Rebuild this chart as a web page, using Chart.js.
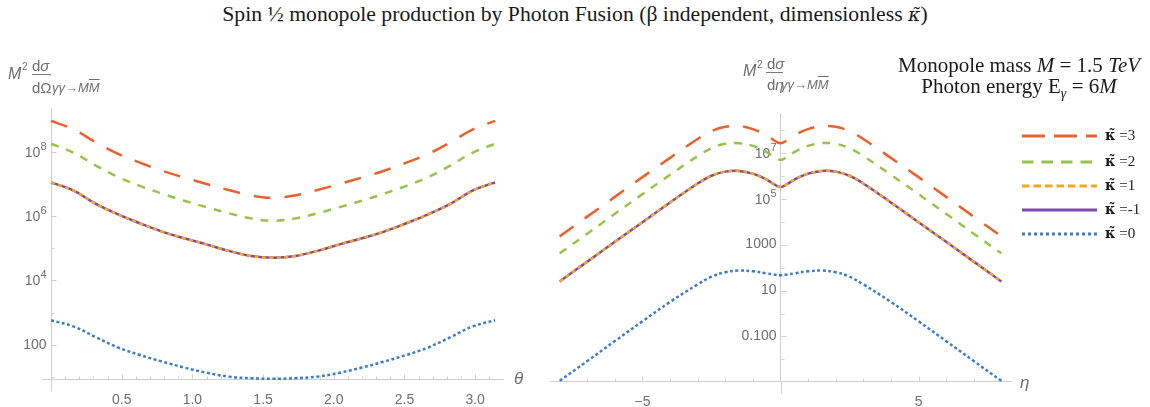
<!DOCTYPE html>
<html>
<head>
<meta charset="utf-8">
<script src="https://cdn.jsdelivr.net/npm/chart.js@4.4.1/dist/chart.umd.min.js"></script>
<style>
html,body{margin:0;padding:0;background:#fff;}
body{width:1150px;height:407px;position:relative;overflow:hidden;font-family:'Liberation Sans',Arial,sans-serif;}
.abs{position:absolute;line-height:1;white-space:nowrap;}
.serif{font-family:'Liberation Serif','Times New Roman',serif;color:#1a1a1a;}
.kap{font-family:'DejaVu Serif',serif;}
.lab{color:#6e6e6e;}
.bar{position:absolute;height:1px;background:#7a7a7a;}
.it{font-style:italic;}
.ov{text-decoration:overline;}
canvas{position:absolute;top:0;}
</style>
</head>
<body>
<div class="abs serif" style="left:0;top:4px;width:1150px;text-align:center;font-size:21.7px;">Spin ½ monopole production by Photon Fusion (β independent, dimensionless <i class="kap" style="font-size:19px">κ̃</i>)</div>

<canvas id="cLeft" width="530" height="407" style="left:0"></canvas>
<canvas id="cRight" width="620" height="407" style="left:530px"></canvas>

<!-- left axis title -->
<div class="abs lab it" style="left:8px;top:65.5px;font-size:16px;">M</div>
<div class="abs lab" style="left:22px;top:62px;font-size:10px;">2</div>
<div class="abs lab" style="left:32px;top:58px;font-size:15px;">d<span class="it">σ</span></div>
<div class="bar" style="left:32px;top:74px;width:19px;"></div>
<div class="abs lab" style="left:32px;top:80px;font-size:15px;">dΩ</div>
<div class="abs lab it" style="left:52px;top:81px;font-size:13px;">γγ→M<span class="ov">M</span></div>

<!-- right axis title -->
<div class="abs lab it" style="left:743px;top:63px;font-size:16px;">M</div>
<div class="abs lab" style="left:757px;top:59.5px;font-size:10px;">2</div>
<div class="abs lab" style="left:767px;top:55.5px;font-size:15px;">d<span class="it">σ</span></div>
<div class="bar" style="left:766px;top:72px;width:17px;"></div>
<div class="abs lab" style="left:767px;top:77px;font-size:15px;">d<span class="it">η</span></div>
<div class="abs lab it" style="left:781px;top:78px;font-size:13px;">γγ→M<span class="ov">M</span></div>

<!-- axis variable names -->
<div class="abs lab it" style="left:514px;top:370px;font-size:17px;">θ</div>
<div class="abs lab it" style="left:1020px;top:374px;font-size:17px;">η</div>

<!-- annotation -->
<div class="abs serif" style="left:889px;top:54.5px;width:260px;text-align:center;font-size:21px;">Monopole mass <i>M</i> = 1.5 <i>TeV</i></div>
<div class="abs serif" style="left:889px;top:76px;width:260px;text-align:center;font-size:21px;">Photon energy E<sub style="font-size:14px;"><i>γ</i></sub> = 6<i>M</i></div>

<div id="legend"></div>

<script>
// ---------------- data ----------------
const thetaValues = [0, 0.1571, 0.3142, 0.4712, 0.6283, 0.7854, 0.9425, 1.0996, 1.2566, 1.4137, 1.5708, 1.7279, 1.8850, 2.0420, 2.1991, 2.3562, 2.5133, 2.6704, 2.8274, 2.9845, 3.1416];
const leftKappa3  = [9.1e8, 5.0e8, 2.0e8, 8.7e7, 4.6e7, 2.57e7, 1.58e7, 1.0e7, 6.5e6, 4.4e6, 3.7e6, 4.4e6, 6.5e6, 1.0e7, 1.58e7, 2.57e7, 4.6e7, 8.7e7, 2.0e8, 5.0e8, 9.1e8];
const leftKappa2  = [1.78e8, 9.5e7, 3.8e7, 1.66e7, 8.7e6, 5.0e6, 3.0e6, 1.9e6, 1.23e6, 8.5e5, 7.2e5, 8.5e5, 1.23e6, 1.9e6, 3.0e6, 5.0e6, 8.7e6, 1.66e7, 3.8e7, 9.5e7, 1.78e8];
const leftKappa1  = [1.12e7, 6.3e6, 2.45e6, 1.15e6, 6.0e5, 3.3e5, 2.04e5, 1.32e5, 8.3e4, 5.75e4, 5.1e4, 5.75e4, 8.3e4, 1.32e5, 2.04e5, 3.3e5, 6.0e5, 1.15e6, 2.45e6, 6.3e6, 1.12e7];
const leftKappaM1 = [1.12e7, 6.3e6, 2.45e6, 1.15e6, 6.0e5, 3.3e5, 2.04e5, 1.32e5, 8.3e4, 5.75e4, 5.1e4, 5.75e4, 8.3e4, 1.32e5, 2.04e5, 3.3e5, 6.0e5, 1.15e6, 2.45e6, 6.3e6, 1.12e7];
const leftKappa0  = [575, 372, 174, 83, 48, 30, 19.5, 13.5, 10.2, 9.1, 8.7, 9.1, 10.2, 13.5, 19.5, 30, 48, 83, 174, 372, 575];

const etaValues = [-8, -7, -6, -5, -4, -3, -2.5, -2, -1.5, -1, -0.5, -0.25, 0, 0.25, 0.5, 1, 1.5, 2, 2.5, 3, 4, 5, 6, 7, 8];
const rightKappa3  = [2290, 1.66e4, 1.2e5, 8.7e5, 6.0e6, 4.0e7, 8.7e7, 1.35e8, 1.45e8, 1.07e8, 5.8e7, 3.6e7, 2.6e7, 3.6e7, 5.8e7, 1.07e8, 1.45e8, 1.35e8, 8.7e7, 4.0e7, 6.0e6, 8.7e5, 1.2e5, 1.66e4, 2290];
const rightKappa2  = [417, 3.0e3, 2.19e4, 1.58e5, 1.1e6, 7.2e6, 1.58e7, 2.45e7, 2.63e7, 2.0e7, 1.07e7, 6.9e6, 4.9e6, 6.9e6, 1.07e7, 2.0e7, 2.63e7, 2.45e7, 1.58e7, 7.2e6, 1.1e6, 1.58e5, 2.19e4, 3.0e3, 417];
const rightKappa1  = [25, 182, 1320, 9.5e3, 6.8e4, 4.6e5, 1.0e6, 1.51e6, 1.62e6, 1.23e6, 6.8e5, 4.4e5, 3.2e5, 4.4e5, 6.8e5, 1.23e6, 1.62e6, 1.51e6, 1.0e6, 4.6e5, 6.8e4, 9.5e3, 1320, 182, 25];
const rightKappaM1 = [25, 182, 1320, 9.5e3, 6.8e4, 4.6e5, 1.0e6, 1.51e6, 1.62e6, 1.23e6, 6.8e5, 4.4e5, 3.2e5, 4.4e5, 6.8e5, 1.23e6, 1.62e6, 1.51e6, 1.0e6, 4.6e5, 6.8e4, 9.5e3, 1320, 182, 25];
const rightKappa0  = [0.00117, 0.0085, 0.063, 0.46, 3.2, 18.6, 40, 63, 74, 69, 56, 50, 46, 50, 56, 69, 74, 63, 40, 18.6, 3.2, 0.46, 0.063, 0.0085, 0.00117];

const seriesLabels = ['κ̃ =3', 'κ̃ =2', 'κ̃ =1', 'κ̃ =-1', 'κ̃ =0'];

const leftXTicks = [0.1,0.2,0.3,0.4,0.5,0.6,0.7,0.8,0.9,1.0,1.1,1.2,1.3,1.4,1.5,1.6,1.7,1.8,1.9,2.0,2.1,2.2,2.3,2.4,2.5,2.6,2.7,2.8,2.9,3.0,3.1];
const leftXLabels = [[0.5,'0.5'],[1.0,'1.0'],[1.5,'1.5'],[2.0,'2.0'],[2.5,'2.5'],[3.0,'3.0']];
const leftYTicks = [10, 100, 1e3, 1e4, 1e5, 1e6, 1e7, 1e8, 1e9];
const leftYLabels = [[100,'100'],[1e4,'10^4'],[1e6,'10^6'],[1e8,'10^8']];

const rightXTicks = [-8,-7,-6,-5,-4,-3,-2,-1,1,2,3,4,5,6,7,8];
const rightXLabels = [[-5,'−5'],[5,'5']];
const rightYTicks = [0.01, 0.1, 1, 10, 100, 1e3, 1e4, 1e5, 1e6, 1e7, 1e8];
const rightYLabels = [[0.1,'0.100'],[10,'10'],[1000,'1000'],[1e5,'10^5'],[1e7,'10^7']];

// ---------------- styles ----------------
const styles = [
  {color:'#E8622E', dash:[17,14], legendDash:'23 9'},
  {color:'#96C44A', dash:[8,8],   legendDash:'11.5 8'},
  {color:'#F6A623', dash:[4,3.5], legendDash:'7.5 4'},
  {color:'#7C4AA6', dash:[],      legendDash:''},
  {color:'#3E7CC8', dash:[3,2.5], legendDash:'3 3'}
];
const AXIS = '#cfcfcf';
const TICKTXT = '#6e6e6e';
const FONT = "'Liberation Sans', Arial, sans-serif";

Chart.defaults.font.family = FONT;

function findLabel(list, v, log) {
  for (const [k, s] of list) {
    if (log ? Math.abs(Math.log10(k) - Math.log10(v)) < 1e-6 : Math.abs(k - v) < 1e-6) return s;
  }
  return '';
}

// tick marks pointing into the plot, and y labels with real superscripts
const axisDecor = {
  id: 'axisDecor',
  beforeDatasetsDraw(chart) {
    const {ctx, chartArea} = chart;
    const xs = chart.scales.x, ys = chart.scales.y;
    const ax = Math.round(xs.getPixelForValue(0)) + 0.5;
    const ay = Math.round(chartArea.bottom) + 0.5;
    ctx.save();
    ctx.strokeStyle = AXIS;
    ctx.lineWidth = 1;
    ctx.beginPath();
    ys.ticks.forEach(t => {
      const p = Math.round(ys.getPixelForValue(t.value)) + 0.5;
      const len = t.label ? 5 : 3;
      ctx.moveTo(ax, p); ctx.lineTo(ax + len, p);
    });
    xs.ticks.forEach(t => {
      const p = Math.round(xs.getPixelForValue(t.value)) + 0.5;
      const len = t.label ? 5 : 3;
      ctx.moveTo(p, ay); ctx.lineTo(p, ay - len);
    });
    ctx.moveTo(ax, ay); ctx.lineTo(ax, ay + 12);
    ctx.stroke();

    ctx.fillStyle = TICKTXT;
    ctx.textAlign = 'right';
    ctx.textBaseline = 'middle';
    const right = ax - 5;
    ys.ticks.forEach(t => {
      if (!t.label) return;
      const p = ys.getPixelForValue(t.value);
      const parts = String(t.label).split('^');
      if (parts.length === 2) {
        ctx.font = '11px ' + FONT;
        const ew = ctx.measureText(parts[1]).width;
        ctx.fillText(parts[1], right, p - 5);
        ctx.font = '14px ' + FONT;
        ctx.fillText(parts[0], right - ew, p + 1);
      } else {
        ctx.font = '14px ' + FONT;
        ctx.fillText(parts[0], right, p);
      }
    });
    ctx.restore();
  }
};

function makeDatasets(xs, ys) {
  return ys.map((arr, i) => ({
    label: seriesLabels[i],
    data: xs.map((x, j) => ({x: x, y: arr[j]})),
    borderColor: styles[i].color,
    backgroundColor: styles[i].color,
    borderDash: styles[i].dash,
    borderWidth: 2.5,
    pointRadius: 0,
    fill: false,
    tension: 0.4,
    clip: false
  }));
}

function makeChart(id, xs, ys, cfg) {
  return new Chart(document.getElementById(id), {
    type: 'line',
    data: {datasets: makeDatasets(xs, ys)},
    options: {
      responsive: false,
      animation: false,
      events: [],
      layout: {padding: cfg.pad},
      plugins: {legend: {display: false}, tooltip: {enabled: false}},
      scales: {
        x: {
          type: 'linear', min: cfg.xMin, max: cfg.xMax,
          position: {y: cfg.yMin},
          grid: {display: false},
          border: {display: true, color: AXIS, width: 1},
          afterBuildTicks: s => { s.ticks = cfg.xTicks.map(v => ({value: v})); },
          ticks: {autoSkip: false, maxRotation: 0, padding: 5, color: TICKTXT, font: {size: 14},
                  callback: v => findLabel(cfg.xLabels, v, false)}
        },
        y: {
          type: 'logarithmic', min: cfg.yMin, max: cfg.yMax,
          position: {x: 0},
          grid: {display: false},
          border: {display: true, color: AXIS, width: 1},
          afterBuildTicks: s => { s.ticks = cfg.yTicks.map(v => ({value: v})); },
          ticks: {display: false, autoSkip: false,
                  callback: v => findLabel(cfg.yLabels, v, true)}
        }
      }
    },
    plugins: [axisDecor]
  });
}

makeChart('cLeft', thetaValues, [leftKappa3, leftKappa2, leftKappa1, leftKappaM1, leftKappa0], {
  pad: {left: 42, right: 27, top: 108, bottom: 28},
  xMin: -0.064, xMax: 3.197, yMin: 8.6, yMax: 2.3e9,
  xTicks: leftXTicks, xLabels: leftXLabels, yTicks: leftYTicks, yLabels: leftYLabels
});

makeChart('cRight', etaValues, [rightKappa3, rightKappa2, rightKappa1, rightKappaM1, rightKappa0], {
  pad: {left: 20, right: 139, top: 113, bottom: 26},
  xMin: -8.35, xMax: 8.35, yMin: 0.00115, yMax: 5.4e8,
  xTicks: rightXTicks, xLabels: rightXLabels, yTicks: rightYTicks, yLabels: rightYLabels
});

// ---------------- legend ----------------
const legendY = [136, 162, 186, 209.5, 234];
const lg = document.getElementById('legend');
seriesLabels.forEach((lab, i) => {
  const y = legendY[i];
  const svg = document.createElementNS('http://www.w3.org/2000/svg', 'svg');
  svg.setAttribute('width', '76'); svg.setAttribute('height', '6');
  svg.style.position = 'absolute'; svg.style.left = '1022px'; svg.style.top = (y - 3) + 'px';
  const ln = document.createElementNS('http://www.w3.org/2000/svg', 'line');
  ln.setAttribute('x1', '0'); ln.setAttribute('x2', '75'); ln.setAttribute('y1', '3'); ln.setAttribute('y2', '3');
  ln.setAttribute('stroke', styles[i].color); ln.setAttribute('stroke-width', '3');
  if (styles[i].legendDash) ln.setAttribute('stroke-dasharray', styles[i].legendDash);
  svg.appendChild(ln);
  lg.appendChild(svg);
  const t = document.createElement('div');
  t.className = 'abs serif';
  t.style.left = '1105px'; t.style.top = (y - 8) + 'px'; t.style.fontSize = '15px';
  t.innerHTML = '<b class="kap" style="font-size:14px">κ̃</b>' + lab.slice(2);
  lg.appendChild(t);
});
</script>
</body>
</html>
